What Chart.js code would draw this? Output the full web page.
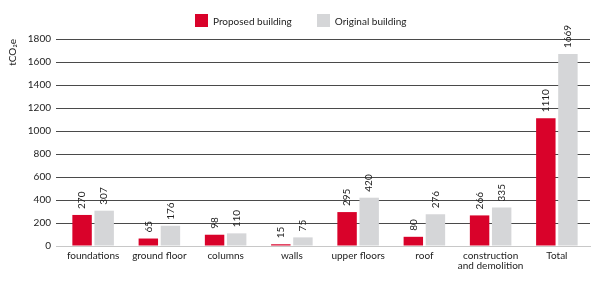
<!DOCTYPE html>
<html>
<head>
<meta charset="utf-8">
<script src="https://cdn.jsdelivr.net/npm/chart.js@4"></script>
<style>
html,body{margin:0;padding:0;background:#fff;}
#wrap{width:600px;height:282px;position:relative;}
#legend{position:absolute;top:14px;left:195px;display:flex;align-items:center;font:10px Lato, sans-serif;color:#222;}
#legend .item{display:flex;align-items:center;height:13px;}
#legend .box{width:13px;height:13px;margin-right:5px;}
</style>
</head>
<body>
<div id="wrap"><canvas id="c"></canvas><div id="legend"></div></div>
<script>
const categories = ["foundations", "ground floor", "columns", "walls", "upper floors", "roof", ["construction", "and demolition"], "Total"];
const proposed = [270, 65, 98, 15, 295, 80, 266, 1110];
const original = [307, 176, 110, 75, 420, 276, 335, 1669];
const seriesNames = ["Proposed building", "Original building"];
const seriesColors = ["#d9022a", "#d5d6d8"];
const yTicks = [0, 200, 400, 600, 800, 1000, 1200, 1400, 1600, 1800];

const FONT = "Lato";

const labelPlugin = {
  id: 'barLabels',
  afterDatasetsDraw(chart) {
    const ctx = chart.ctx;
    ctx.save();
    ctx.font = "10px " + FONT;
    ctx.fillStyle = "#222";
    ctx.textAlign = "left";
    ctx.textBaseline = "middle";
    chart.data.datasets.forEach((ds, di) => {
      const meta = chart.getDatasetMeta(di);
      meta.data.forEach((bar, i) => {
        ctx.save();
        ctx.translate(bar.x, bar.y - 6);
        ctx.rotate(-Math.PI / 2);
        ctx.fillText(String(ds.data[i]), 0, 0);
        ctx.restore();
      });
    });
    ctx.restore();
  }
};

const chart = new Chart(document.getElementById('c'), {
  type: 'bar',
  data: {
    labels: categories,
    datasets: [
      { label: seriesNames[0], data: proposed, backgroundColor: seriesColors[0], categoryPercentage: 0.667, barPercentage: 0.88 },
      { label: seriesNames[1], data: original, backgroundColor: seriesColors[1], categoryPercentage: 0.667, barPercentage: 0.88 }
    ]
  },
  options: {
    responsive: true,
    maintainAspectRatio: false,
    animation: false,
    layout: { padding: { left: 0, right: 10, top: 39, bottom: 6 } },
    plugins: {
      legend: { display: false },
      tooltip: { enabled: false }
    },
    scales: {
      x: {
        grid: { display: false, drawTicks: false },
        border: { display: true, color: '#c8c8c8' },
        ticks: { color: '#222', font: { family: FONT, size: 10, lineHeight: 1.0 }, padding: 5, maxRotation: 0, autoSkip: false }
      },
      y: {
        min: 0, max: 1800,
        afterBuildTicks(axis) { axis.ticks = yTicks.map(v => ({ value: v })); },
        afterFit(axis) { axis.width = 60; },
        grid: {
          color: (c) => c.tick && c.tick.value === 0 ? '#c8c8c8' : '#4a4a4a',
          tickLength: 4, lineWidth: 1
        },
        border: { display: false },
        ticks: { color: '#222', font: { family: FONT, size: 10 }, padding: 5, callback: (v) => String(v) },
        title: { display: true, text: 'tCO₂e', align: 'end', color: '#222', font: { family: FONT, size: 10 }, padding: { top: 7, bottom: 4 } }
      }
    }
  },
  plugins: [labelPlugin]
});

const legendEl = document.getElementById('legend');
seriesNames.forEach((name, i) => {
  const item = document.createElement('div');
  item.className = 'item';
  if (i > 0) item.style.marginLeft = '25px';
  const box = document.createElement('span');
  box.className = 'box';
  box.style.background = seriesColors[i];
  const txt = document.createElement('span');
  txt.textContent = name;
  item.appendChild(box);
  item.appendChild(txt);
  legendEl.appendChild(item);
});
</script>
</body>
</html>
